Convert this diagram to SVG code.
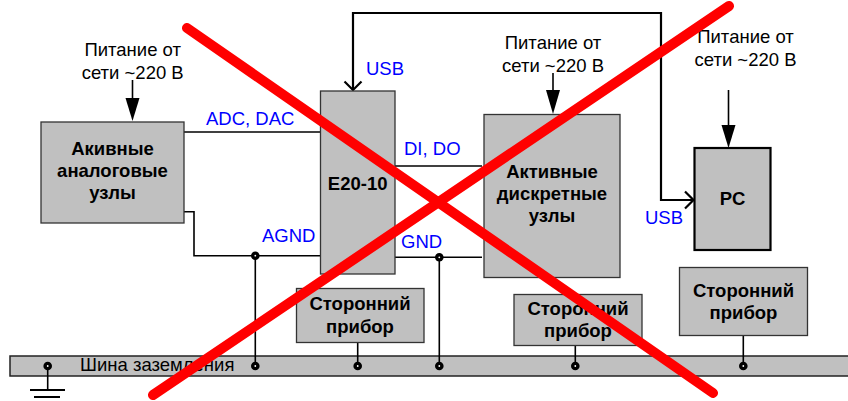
<svg xmlns="http://www.w3.org/2000/svg" width="848" height="401" viewBox="0 0 848 401">
<style>
.box{fill:#c0c0c0;stroke:#333;stroke-width:1.3}
.t{font-family:"Liberation Sans",Arial,sans-serif;font-size:18.5px;fill:#000}
.b{font-family:"Liberation Sans",Arial,sans-serif;font-size:18.5px;font-weight:bold;fill:#000;text-anchor:middle}
.blue{font-family:"Liberation Sans",Arial,sans-serif;font-size:18.5px;fill:#0000ff}
.w{fill:none;stroke:#000;stroke-width:1.6}
.usb{fill:none;stroke:#000;stroke-width:2.2}
.red{stroke:#ff0000;stroke-width:10;stroke-linecap:round}
</style>
<defs>
<g id="dot"><circle r="4.3" fill="#000"/><circle r="0.9" fill="#fff"/></g>
</defs>
<rect width="848" height="401" fill="#fff"/>
<g id="bus">
<rect x="10" y="356" width="845" height="20" fill="#c0c0c0" stroke="#222" stroke-width="1.5"/>
<text class="t" x="80" y="371">Шина заземления</text>
<line x1="47.7" y1="366" x2="47.7" y2="390" class="w"/>
<line x1="30" y1="390" x2="65" y2="390" stroke="#000" stroke-width="2"/>
<line x1="34" y1="397" x2="60" y2="397" stroke="#000" stroke-width="2"/>
</g>
<g id="connectors">
<line x1="132.5" y1="80" x2="132.5" y2="100" class="w"/>
<polygon points="125.5,98 139.5,98 132.5,121" fill="#000"/>
<line x1="553" y1="73" x2="553" y2="92" class="w"/>
<polygon points="546,90 560,90 553,114" fill="#000"/>
<line x1="728.5" y1="90" x2="728.5" y2="127" class="w"/>
<polygon points="721.5,125 735.5,125 728.5,148" fill="#000"/>
<line x1="184" y1="132" x2="320" y2="132" class="w"/>
<line x1="395" y1="166" x2="482" y2="166" class="w"/>
<polyline points="184,211.7 194,211.7 194,255.7 320,255.7" class="w"/>
<line x1="395" y1="257.3" x2="482" y2="257.3" class="w"/>
<line x1="255.3" y1="255.7" x2="255.3" y2="366" class="w"/>
<line x1="439.3" y1="257.3" x2="439.3" y2="366" class="w"/>
<line x1="357.7" y1="342" x2="357.7" y2="366" class="w"/>
<line x1="575.3" y1="346" x2="575.3" y2="366" class="w"/>
<line x1="743.3" y1="336" x2="743.3" y2="366" class="w"/>
<polyline points="353,89 353,13 661,13 661,200 692,200" class="usb"/>
<polyline points="344.5,81.5 353,90 361.5,81.5" class="usb"/>
<polyline points="685,191.5 693.5,200 685,208.5" class="usb"/>
<use href="#dot" x="47.7" y="366"/>
<use href="#dot" x="255.3" y="366"/>
<use href="#dot" x="357.7" y="366"/>
<use href="#dot" x="439.3" y="366"/>
<use href="#dot" x="575.3" y="366"/>
<use href="#dot" x="743.3" y="366"/>
<use href="#dot" x="255.3" y="255.7"/>
<use href="#dot" x="439.3" y="257.3"/>
</g>
<g id="labels">
<text class="t" x="132.7" y="56" text-anchor="middle">Питание от</text>
<text class="t" x="132.7" y="79" text-anchor="middle">сети ~220 В</text>
<text class="t" x="553" y="49" text-anchor="middle">Питание от</text>
<text class="t" x="553" y="72" text-anchor="middle">сети ~220 В</text>
<text class="t" x="745.5" y="43" text-anchor="middle">Питание от</text>
<text class="t" x="745.5" y="66" text-anchor="middle">сети ~220 В</text>
<text class="blue" x="206" y="125">ADC, DAC</text>
<text class="blue" x="366" y="75">USB</text>
<text class="blue" x="404" y="155">DI, DO</text>
<text class="blue" x="645" y="224">USB</text>
<text class="blue" x="262" y="242">AGND</text>
<text class="blue" x="401" y="248">GND</text>
</g>
<g id="analog">
<rect class="box" x="41" y="122" width="143" height="101"/>
<text class="b" x="112.5" y="155">Акивные</text>
<text class="b" x="112.5" y="177">аналоговые</text>
<text class="b" x="112.5" y="199">узлы</text>
</g>
<g id="e20">
<rect class="box" x="320.5" y="91" width="74.5" height="183"/>
<text class="b" x="357.7" y="190">E20-10</text>
</g>
<g id="discrete">
<rect class="box" x="484" y="114.5" width="136" height="163"/>
<text class="b" x="552" y="178">Активные</text>
<text class="b" x="552" y="200">дискретные</text>
<text class="b" x="552" y="222">узлы</text>
</g>
<g id="pc">
<rect x="694.5" y="148" width="76" height="102" fill="#c0c0c0" stroke="#000" stroke-width="2.2"/>
<text class="b" x="732.5" y="205">PC</text>
</g>
<g id="dev1">
<rect class="box" x="296.5" y="288.5" width="127.5" height="54"/>
<text class="b" x="360" y="310">Сторонний</text>
<text class="b" x="360" y="333">прибор</text>
</g>
<g id="dev2">
<rect class="box" x="514" y="294.5" width="128" height="51"/>
<text class="b" x="578" y="315">Сторонний</text>
<text class="b" x="578" y="337">прибор</text>
</g>
<g id="dev3">
<rect class="box" x="679.5" y="267.5" width="128" height="68"/>
<text class="b" x="743.5" y="297">Сторонний</text>
<text class="b" x="743.5" y="319">прибор</text>
</g>
<g id="cross">
<line class="red" x1="187" y1="28" x2="713" y2="393"/>
<line class="red" x1="729" y1="6" x2="153" y2="395"/>
</g>
</svg>
